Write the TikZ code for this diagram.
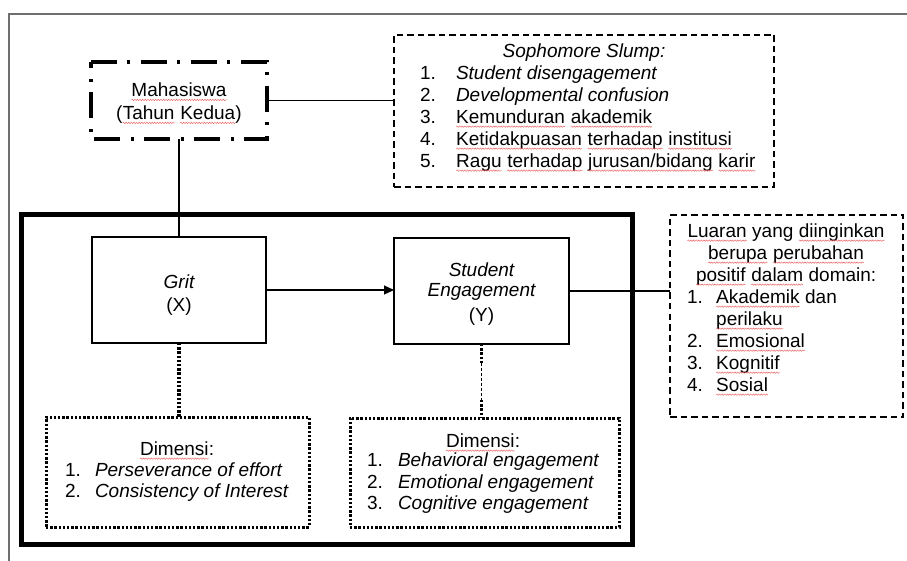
\documentclass[tikz,border=0pt]{standalone}
\usepackage{fontspec}
\setmainfont{Liberation Sans}
\usetikzlibrary{arrows.meta,decorations.pathmorphing}
\definecolor{sqred}{RGB}{235,95,95}
\definecolor{framegray}{RGB}{110,110,110}
\newcommand\sq[1]{\tikz[baseline=(sqw.base),x=1pt,y=1pt]{\node[inner sep=0pt,outer sep=0pt,anchor=base] (sqw) at (0,0) {#1};\draw[sqred,line width=0.45pt,decorate,decoration={snake,amplitude=0.7pt,segment length=2.6pt}] ([yshift=-3pt]sqw.base west) -- ([yshift=-3pt]sqw.base east);}}
\tikzset{
  txt/.style={inner sep=0pt, outer sep=0pt, font=\fontsize{19}{22}\selectfont},
  boxbase/.style={draw, inner sep=0pt, outer sep=0pt},
  plainbox/.style={inner sep=0pt, outer sep=0pt},
  dashdotline/.style={line width=3.2pt, dash pattern=on 26pt off 10pt on 3pt off 11pt, line cap=butt},
  dashbox/.style={boxbase, line width=1.3pt, dash pattern=on 6.5pt off 4pt},
  dotbox/.style={boxbase, line width=3pt, dash pattern=on 2.4pt off 1.8pt},
  solidbox/.style={boxbase, line width=2.8pt},
  bigbox/.style={boxbase, line width=5pt},
  conn/.style={line width=1.2pt},
  dotconn/.style={line width=3.2pt, dash pattern=on 2.4pt off 1.8pt},
}
\begin{document}
\begin{tikzpicture}[x=1pt,y=-1pt]
\useasboundingbox (0,0) rectangle (907,561);
% page frame
\draw[framegray, line width=1.8pt] (907,14) -- (9,14) -- (9,561);

% boxes
\node[plainbox, minimum width=176pt, minimum height=77pt] (mah) at (179,100.5) {};
\draw[dashdotline] (mah.north west) -- (mah.north east) -- (mah.south east) -- (mah.south west) -- cycle;
\node[dashbox, minimum width=380pt, minimum height=152pt] (soph) at (584,111) {};
\node[bigbox, minimum width=611pt, minimum height=329.5pt] (big) at (327,379.75) {};
\node[solidbox, minimum width=174pt, minimum height=106pt] (grit) at (179,290) {};
\node[solidbox, minimum width=175pt, minimum height=106pt] (se) at (481.5,291) {};
\node[dashbox, minimum width=233pt, minimum height=202pt] (lua) at (786.5,316) {};
\node[dotbox, minimum width=263pt, minimum height=110pt] (dimA) at (177.5,472) {};
\node[dotbox, minimum width=269pt, minimum height=109pt] (dimB) at (484.5,472.5) {};

% connectors
\draw[conn] (mah.east) -- (mah.east -| soph.west);
\draw[conn] (mah.south) -- (grit.north);
\draw[conn, -{Triangle[length=10pt,width=9pt]}] (grit.east) -- (grit.east -| se.west);
\draw[conn] (se.east) -- (se.east -| lua.west);
\draw[dotconn] (grit.south) -- (grit.south |- dimA.north);
\coordinate (sA) at (481.5,363);
\coordinate (sB) at (481.5,400);
\draw[dotconn] (se.south) -- (sA);
\draw[line width=0.8pt, dash pattern=on 3pt off 2pt] (sA) -- (sB);
\draw[dotconn] (sB) -- (se.south |- dimB.north);

% Mahasiswa text
\node[txt] (mahA) at (179,92) {\sq{Mahasiswa}};
\node[txt] (mahB) at (179,115) {(\sq{Tahun} \sq{Kedua})};

% Sophomore text
\node[txt, anchor=mid] (sphT) at (584,55) {\itshape Sophomore Slump:};
\node[txt, anchor=mid west] (sn1) at (420,77) {1.};
\node[txt, anchor=mid west] (sn2) at (420,99) {2.};
\node[txt, anchor=mid west] (sn3) at (420,121) {3.};
\node[txt, anchor=mid west] (sn4) at (420,143) {4.};
\node[txt, anchor=mid west] (sn5) at (420,165) {5.};
\node[txt, anchor=mid west] (st1) at (456,77) {\itshape Student disengagement};
\node[txt, anchor=mid west] (st2) at (456,99) {\itshape Developmental confusion};
\node[txt, anchor=mid west] (st3) at (456,121) {\sq{Kemunduran} \sq{akademik}};
\node[txt, anchor=mid west] (st4) at (456,143) {\sq{Ketidakpuasan} \sq{terhadap} \sq{institusi}};
\node[txt, anchor=mid west] (st5) at (456,165) {\sq{Ragu} \sq{terhadap} \sq{jurusan/bidang} \sq{karir}};

% Grit / SE text
\node[txt] (gritA) at (179,282) {\itshape Grit};
\node[txt] (gritB) at (179,307) {(X)};
\node[txt] (seA) at (481.5,270) {\itshape Student};
\node[txt] (seB) at (481.5,292) {\itshape Engagement};
\node[txt] (seC) at (481.5,317) {(Y)};

% Luaran text
\node[txt, anchor=mid] (lT1) at (786,235) {\sq{Luaran} yang \sq{diinginkan}};
\node[txt, anchor=mid] (lT2) at (786,257) {\sq{berupa} \sq{perubahan}};
\node[txt, anchor=mid] (lT3) at (786,279) {\sq{positif} \sq{dalam} domain:};
\node[txt, anchor=mid west] (ln1) at (687,301) {1.};
\node[txt, anchor=mid west] (ln2) at (687,345) {2.};
\node[txt, anchor=mid west] (ln3) at (687,367) {3.};
\node[txt, anchor=mid west] (ln4) at (687,389) {4.};
\node[txt, anchor=mid west] (lt1) at (716,301) {\sq{Akademik} dan};
\node[txt, anchor=mid west] (lt1b) at (716,323) {\sq{perilaku}};
\node[txt, anchor=mid west] (lt2) at (716,345) {\sq{Emosional}};
\node[txt, anchor=mid west] (lt3) at (716,367) {\sq{Kognitif}};
\node[txt, anchor=mid west] (lt4) at (716,389) {\sq{Sosial}};

% Dimensi A
\node[txt, anchor=mid] (dAT) at (177,453) {\sq{Dimensi}:};
\node[txt, anchor=mid west] (dAn1) at (65,474) {1.};
\node[txt, anchor=mid west] (dAn2) at (65,495) {2.};
\node[txt, anchor=mid west] (dAt1) at (95,474) {\itshape Perseverance of effort};
\node[txt, anchor=mid west] (dAt2) at (95,495) {\itshape Consistency of Interest};

% Dimensi B
\node[txt, anchor=mid] (dBT) at (483,445) {\sq{Dimensi}:};
\node[txt, anchor=mid west] (dBn1) at (367,464) {1.};
\node[txt, anchor=mid west] (dBn2) at (367,485.5) {2.};
\node[txt, anchor=mid west] (dBn3) at (367,507) {3.};
\node[txt, anchor=mid west] (dBt1) at (398,464) {\itshape Behavioral engagement};
\node[txt, anchor=mid west] (dBt2) at (398,485.5) {\itshape Emotional engagement};
\node[txt, anchor=mid west] (dBt3) at (398,507) {\itshape Cognitive engagement};
\end{tikzpicture}
\end{document}
